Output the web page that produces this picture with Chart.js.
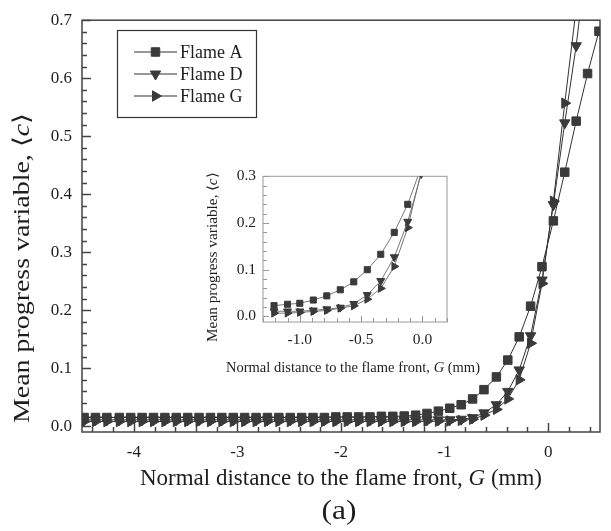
<!DOCTYPE html>
<html>
<head>
<meta charset="utf-8">
<script src="https://cdn.jsdelivr.net/npm/chart.js@4.4.0/dist/chart.umd.min.js"></script>
<style>
  html, body { margin: 0; padding: 0; background: #fff; }
  #wrap { position: relative; width: 611px; height: 531px; }
  #mainChart { position: absolute; left: 0; top: 0; }
  #insetChart { position: absolute; left: 195px; top: 160px; }
</style>
</head>
<body>
<div id="wrap">
  <canvas id="mainChart" width="611" height="531"></canvas>
  <canvas id="insetChart" width="300" height="220"></canvas>
</div>
<script>
// normal distance to the flame front G (mm), main panel
const distance = [-4.48, -4.37, -4.26, -4.14, -4.03, -3.92, -3.81, -3.70, -3.59, -3.48,
  -3.37, -3.26, -3.15, -3.04, -2.93, -2.82, -2.71, -2.60, -2.49, -2.38,
  -2.27, -2.16, -2.05, -1.94, -1.83, -1.72, -1.61, -1.50, -1.39, -1.28,
  -1.17, -1.06, -0.95, -0.84, -0.73, -0.62, -0.50, -0.39, -0.28, -0.17,
  -0.06, 0.05, 0.16, 0.27, 0.38, 0.49];
const flameA = [0.015, 0.015, 0.015, 0.015, 0.015, 0.015, 0.015, 0.015, 0.015, 0.015,
  0.015, 0.015, 0.015, 0.015, 0.015, 0.015, 0.015, 0.015, 0.015, 0.015,
  0.015, 0.015, 0.016, 0.016, 0.016, 0.016, 0.017, 0.017, 0.0175, 0.019,
  0.022, 0.026, 0.031, 0.037, 0.047, 0.063, 0.085, 0.114, 0.154, 0.207,
  0.275, 0.354, 0.438, 0.526, 0.608, 0.681];
const flameD = [0.011, 0.011, 0.011, 0.011, 0.011, 0.011, 0.011, 0.011, 0.011, 0.011,
  0.011, 0.011, 0.011, 0.011, 0.011, 0.011, 0.011, 0.011, 0.011, 0.011,
  0.011, 0.011, 0.011, 0.011, 0.011, 0.011, 0.011, 0.011, 0.011, 0.011,
  0.011, 0.011, 0.011, 0.012, 0.0147, 0.023, 0.037, 0.060, 0.097, 0.156,
  0.252, 0.382, 0.523, 0.656, 0.82, 0.95];
const flameG = [0.008, 0.008, 0.008, 0.008, 0.008, 0.008, 0.008, 0.008, 0.008, 0.008,
  0.008, 0.008, 0.008, 0.008, 0.008, 0.008, 0.008, 0.008, 0.008, 0.008,
  0.008, 0.008, 0.008, 0.008, 0.008, 0.008, 0.008, 0.008, 0.008, 0.008,
  0.0085, 0.0085, 0.009, 0.010, 0.012, 0.019, 0.029, 0.047, 0.080, 0.143,
  0.246, 0.388, 0.557, 0.72, 0.88, 0.98];

// inset panel (close-up near the flame front)
const insetDistance = [-1.21, -1.10, -1.00, -0.89, -0.78, -0.67, -0.56, -0.45, -0.34, -0.23, -0.12, -0.01];
const insetFlameA = [0.023, 0.026, 0.028, 0.035, 0.044, 0.057, 0.074, 0.100, 0.133, 0.180, 0.240, 0.32];
const insetFlameD = [0.011, 0.011, 0.011, 0.013, 0.0155, 0.019, 0.027, 0.046, 0.076, 0.127, 0.203, 0.305];
const insetFlameG = [0.007, 0.007, 0.0085, 0.0106, 0.0127, 0.0176, 0.0226, 0.0367, 0.060, 0.107, 0.190, 0.31];

const seriesLabels = ['Flame A', 'Flame D', 'Flame G'];
const mainXTicks = [-4, -3, -2, -1, 0];
const mainYTicks = [0, 0.1, 0.2, 0.3, 0.4, 0.5, 0.6, 0.7];
const insetXTicks = [-1.0, -0.5, 0.0];
const insetYTicks = [0, 0.1, 0.2, 0.3];

const serif = '"Liberation Serif", "Times New Roman", serif';
const ink = '#1e1e1e';
const markerColor = '#3a3a3a';

function pts(xs, ys) {
    return xs.map((x, i) => ({ x: x, y: ys[i] }));
}

// text with italic pieces, centred on (x, y); optionally stretched to a given length
function drawRich(ctx, parts, size, x, y, angle, length) {
    ctx.save();
    ctx.translate(x, y);
    if (angle) ctx.rotate(angle);
    ctx.textBaseline = 'middle';
    ctx.textAlign = 'left';
    ctx.fillStyle = ink;
    const fontOf = p => (p.italic ? 'italic ' : '') + size + 'px ' + serif;
    let total = 0;
    parts.forEach(p => { ctx.font = fontOf(p); total += ctx.measureText(p.text).width; });
    if (length) ctx.scale(length / total, 1);
    let cx = -total / 2;
    parts.forEach(p => {
        ctx.font = fontOf(p);
        ctx.fillText(p.text, cx, 0);
        cx += ctx.measureText(p.text).width;
    });
    ctx.restore();
}

const yTitle = [{ text: 'Mean progress variable, \u27E8' }, { text: 'c', italic: true }, { text: '\u27E9' }];
const xTitle = [{ text: 'Normal distance to the flame front, ' }, { text: 'G', italic: true }, { text: ' (mm)' }];

// frame, inward ticks, titles, legend
const figurePlugin = {
    id: 'figure',
    beforeDatasetsDraw(chart, args, opts) {
        const { ctx, chartArea: a } = chart;
        ctx.save();
        ctx.strokeStyle = opts.frameColor;
        ctx.lineWidth = opts.frameWidth;
        ctx.strokeRect(a.left, a.top, a.right - a.left, a.bottom - a.top);
        ['x', 'y'].forEach(id => {
            const s = chart.scales[id];
            const t = opts.ticks[id];
            let v = Math.ceil(s.min / t.minor - 1e-6) * t.minor;
            for (; v <= s.max + 1e-9; v += t.minor) {
                const major = Math.abs(v / t.major - Math.round(v / t.major)) < 1e-6;
                const len = major ? opts.majorLen : opts.minorLen;
                const p = Math.round(s.getPixelForValue(v)) + 0.5;
                ctx.beginPath();
                if (id === 'x') {
                    ctx.moveTo(p, a.bottom);
                    ctx.lineTo(p, a.bottom - len);
                } else {
                    ctx.moveTo(a.left, p);
                    ctx.lineTo(a.left + len, p);
                }
                ctx.stroke();
            }
        });
        ctx.restore();
    },
    afterDraw(chart, args, opts) {
        const ctx = chart.ctx;
        const tt = opts.titles;
        drawRich(ctx, yTitle, tt.size, tt.y[0], tt.y[1], -Math.PI / 2, tt.yLength);
        drawRich(ctx, xTitle, tt.size, tt.x[0], tt.x[1], 0, tt.xLength);
        if (opts.caption) {
            const c = opts.caption;
            drawRich(ctx, [{ text: c.text }], c.size, c.x, c.y, 0, c.length);
        }
        if (opts.legend) {
            const L = opts.legend;
            ctx.save();
            ctx.strokeStyle = '#333';
            ctx.lineWidth = 1.2;
            ctx.strokeRect(L.left + 0.5, L.top + 0.5, L.width, L.height);
            chart.data.datasets.forEach((ds, i) => {
                const y = L.top + L.firstRow + i * L.rowGap;
                ctx.strokeStyle = ds.borderColor;
                ctx.lineWidth = 1;
                ctx.beginPath();
                ctx.moveTo(L.left + L.lineStart, y);
                ctx.lineTo(L.left + L.lineEnd, y);
                ctx.stroke();
                ctx.fillStyle = markerColor;
                ctx.strokeStyle = markerColor;
                Chart.helpers.drawPoint(ctx, {
                    pointStyle: ds.pointStyle,
                    radius: ds.pointRadius,
                    rotation: ds.pointRotation || 0,
                    borderWidth: 1
                }, L.left + (L.lineStart + L.lineEnd) / 2, y);
                ctx.fillStyle = ink;
                ctx.font = L.size + 'px ' + serif;
                ctx.textBaseline = 'middle';
                ctx.textAlign = 'left';
                ctx.fillText(ds.label, L.left + L.textStart, y + 1);
            });
            ctx.restore();
        }
    }
};

function dataset(label, xs, ys, style, rotation, radius, lineColor) {
    return {
        label: label,
        data: pts(xs, ys),
        borderColor: lineColor,
        borderWidth: 1,
        pointStyle: style,
        pointRotation: rotation,
        pointRadius: radius,
        pointHoverRadius: radius,
        pointBackgroundColor: markerColor,
        pointBorderColor: markerColor,
        pointBorderWidth: 1,
        tension: 0,
        fill: false
    };
}

function axis(min, max, tickValues, fmt, fontSize, pad, fitProp, fitSize) {
    return {
        type: 'linear',
        min: min,
        max: max,
        grid: { display: false, drawTicks: false },
        border: { display: false },
        afterBuildTicks: scale => { scale.ticks = tickValues.map(v => ({ value: v })); },
        afterFit: scale => { scale[fitProp] = fitSize; },
        ticks: {
            autoSkip: false,
            maxRotation: 0,
            padding: pad,
            color: ink,
            font: { family: serif, size: fontSize },
            callback: fmt
        }
    };
}

new Chart(document.getElementById('mainChart'), {
    type: 'line',
    data: {
        datasets: [
            dataset(seriesLabels[0], distance, flameA, 'rect', 0, 6, '#333'),
            dataset(seriesLabels[1], distance, flameD, 'triangle', 180, 6, '#333'),
            dataset(seriesLabels[2], distance, flameG, 'triangle', 90, 6, '#333')
        ]
    },
    options: {
        responsive: false,
        animation: false,
        layout: { padding: { top: 14, right: 11, left: 0, bottom: 0 } },
        scales: {
            x: axis(-4.5, 0.5, mainXTicks, v => String(v), 17, 10, 'height', 99),
            y: axis(-0.01, 0.7, mainYTicks, v => v.toFixed(1), 17, 10, 'width', 82)
        },
        plugins: {
            legend: { display: false },
            tooltip: { enabled: false },
            figure: {
                frameColor: '#444',
                frameWidth: 1.5,
                majorLen: 9,
                minorLen: 5,
                ticks: { x: { major: 1, minor: 0.2 }, y: { major: 0.1, minor: 0.02 } },
                titles: { size: 23, x: [341, 479], xLength: 402, y: [23, 268], yLength: 310 },
                caption: { text: '(a)', size: 28, x: 339, y: 512, length: 35 },
                legend: {
                    left: 117, top: 30, width: 139, height: 87,
                    firstRow: 22, rowGap: 22,
                    lineStart: 17, lineEnd: 60, textStart: 63, size: 18
                }
            }
        }
    },
    plugins: [figurePlugin]
});

new Chart(document.getElementById('insetChart'), {
    type: 'line',
    data: {
        datasets: [
            dataset(seriesLabels[0], insetDistance, insetFlameA, 'rect', 0, 4.3, '#777'),
            dataset(seriesLabels[1], insetDistance, insetFlameD, 'triangle', 180, 4.6, '#777'),
            dataset(seriesLabels[2], insetDistance, insetFlameG, 'triangle', 90, 4.6, '#777')
        ]
    },
    options: {
        responsive: false,
        animation: false,
        layout: { padding: { top: 15, right: 48, left: 0, bottom: 0 } },
        scales: {
            x: axis(-1.3, 0.2, insetXTicks, v => v.toFixed(1), 15.5, 9, 'height', 58),
            y: axis(-0.012, 0.3, insetYTicks, v => v.toFixed(1), 15.5, 7, 'width', 68)
        },
        plugins: {
            legend: { display: false },
            tooltip: { enabled: false },
            figure: {
                frameColor: '#999',
                frameWidth: 1,
                majorLen: 6,
                minorLen: 4,
                ticks: { x: { major: 0.5, minor: 0.1 }, y: { major: 0.1, minor: 0.02 } },
                titles: { size: 14, x: [158, 208], xLength: 254, y: [18, 97.5], yLength: 169 }
            }
        }
    },
    plugins: [figurePlugin]
});
</script>
</body>
</html>
